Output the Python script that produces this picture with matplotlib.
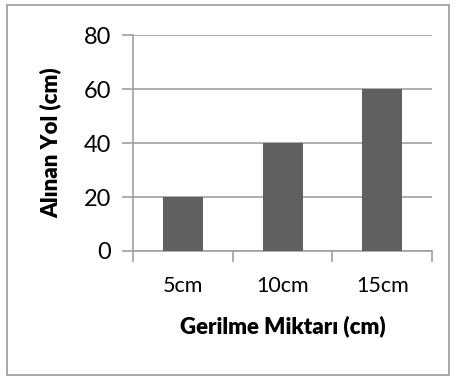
import matplotlib
matplotlib.use('Agg')
import matplotlib.pyplot as plt
import numpy as np

matplotlib.rcParams['font.family'] = ['Lato', 'DejaVu Sans']

categories = ['5cm', '10cm', '15cm']
values = [20, 40, 60]
yticks = [0, 20, 40, 60, 80]

fig = plt.figure(figsize=(4.54, 3.78), dpi=100)
ax = fig.add_axes([0.293, 0.336, 0.659, 0.571])

x = np.arange(len(categories))
ax.bar(x, values, width=0.4, color='#606060', zorder=3)

grid_c = '#a0a0a0'
ax.set_xlim(-0.5, len(categories) - 0.5)
ax.set_ylim(0, 80)
ax.set_yticks(yticks)
ax.yaxis.grid(True, color=grid_c, linewidth=1.2, zorder=0)

# category labels centered, ticks at boundaries
ax.set_xticks(x)
ax.set_xticklabels(categories, fontsize=15.5)
ax.tick_params(axis='x', length=0, pad=18)
ax.set_xticks(np.arange(len(categories) + 1) - 0.5, minor=True)
ax.tick_params(axis='x', which='minor', length=8, color=grid_c, width=1.2)
ax.tick_params(axis='y', length=8, color=grid_c, width=1.2, labelsize=17, pad=8)

for s in ['top', 'right']:
    ax.spines[s].set_visible(False)
for s in ['left', 'bottom']:
    ax.spines[s].set_color(grid_c)
    ax.spines[s].set_linewidth(1.2)

ax.set_xlabel('Gerilme Miktarı (cm)', fontsize=16, fontweight='heavy', labelpad=14)
ax.set_ylabel('Alınan Yol (cm)', fontsize=16, fontweight='heavy', labelpad=16)

# outer chart border
fig.patches.append(plt.Rectangle((0.015, 0.008), 0.975, 0.978, transform=fig.transFigure,
                                 fill=False, edgecolor='#9a9a9a', linewidth=1.2))

plt.savefig('out.png', dpi=100)
